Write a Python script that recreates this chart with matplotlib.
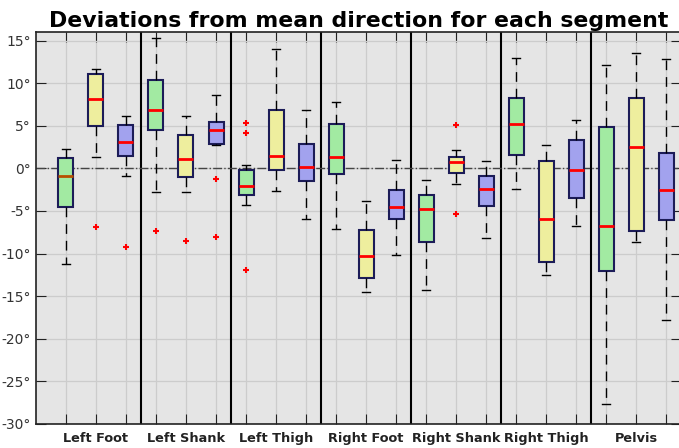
import numpy as np
import matplotlib.pyplot as plt

segments = ['Left Foot', 'Left Shank', 'Left Thigh', 'Right Foot',
            'Right Shank', 'Right Thigh', 'Pelvis']

# five-number summaries per box (3 boxes per segment: green, yellow, blue)
whislo = [-11.2, 1.3, -0.9, -2.8, -2.8, 2.7, -4.35, -2.7, -6.0,
          -7.1, -14.5, -10.2, -14.3, -1.8, -8.2, -2.4, -12.5, -6.8,
          -27.7, -8.6, -17.8]
q1 = [-4.5, 5.0, 1.4, 4.5, -1.0, 2.9, -3.1, -0.2, -1.5,
      -0.7, -12.9, -6.0, -8.6, -0.6, -4.4, 1.6, -11.0, -3.5,
      -12.1, -7.35, -6.1]
med = [-0.85, 8.1, 3.1, 6.8, 1.1, 4.5, -2.1, 1.5, 0.2,
       1.3, -10.3, -4.5, -4.8, 0.7, -2.4, 5.2, -5.95, -0.2,
       -6.8, 2.5, -2.6]
q3 = [1.2, 11.1, 5.05, 10.4, 3.9, 5.45, -0.2, 6.9, 2.9,
      5.25, -7.2, -2.5, -3.15, 1.35, -0.9, 8.25, 0.85, 3.3,
      4.8, 8.3, 1.85]
whishi = [2.3, 11.7, 6.2, 15.3, 6.2, 8.6, 0.35, 14.0, 6.8,
          7.8, -3.85, 1.0, -1.4, 2.1, 0.9, 13.0, 2.7, 5.7,
          12.1, 13.5, 12.8]
outliers = [[], [-6.9], [-9.2], [-7.35], [-8.5], [-1.3, -8.1],
            [5.35, 4.15, -11.95], [], [], [], [], [], [],
            [5.05, -5.3], [], [], [], [], [], [], []]

fills = ['#a2eaa2', '#eeee9e', '#a2a2ee']

stats = []
for i in range(len(med)):
    stats.append(dict(whislo=whislo[i], q1=q1[i], med=med[i], q3=q3[i],
                      whishi=whishi[i], fliers=outliers[i]))

fig = plt.figure(figsize=(6.79, 4.48), dpi=100)
ax = fig.add_axes([0.053, 0.0536, 0.95, 0.875])
ax.set_facecolor('#e5e5e5')

positions = np.arange(1, len(med) + 1)
bp = ax.bxp(stats, positions=positions, widths=0.5, patch_artist=True,
            boxprops=dict(edgecolor='#1c1c58', linewidth=1.5),
            whiskerprops=dict(color='black', linestyle=(0, (7, 5)), linewidth=1),
            capprops=dict(color='black', linewidth=1),
            medianprops=dict(color='red', linewidth=2),
            flierprops=dict(marker='+', markeredgecolor='red', markersize=5,
                            markeredgewidth=1.5))
for i, box in enumerate(bp['boxes']):
    box.set_facecolor(fills[i % 3])
bp['medians'][0].set_color('#b85000')

# separators between segments and zero reference
for k in range(1, len(segments)):
    ax.axvline(3 * k + 0.5, color='black', linewidth=1.5, zorder=1)
ax.axhline(0, color='#444444', linestyle='-.', linewidth=1, zorder=1)

ax.set_xlim(0, 21.5)
ax.set_ylim(-30, 16)
ax.xaxis.remove_overlapping_locs = False
ax.set_xticks(positions)
ax.set_xticklabels([''] * len(positions))
ax.set_xticks([3 * k + 2 for k in range(len(segments))], minor=True)
ax.set_xticklabels(segments, minor=True, fontweight='bold', fontsize=9.3,
                   color='#222222')
ax.tick_params(axis='x', which='minor', length=0, pad=6)
ax.tick_params(axis='both', which='major', direction='in', top=True,
               right=True, length=7, color='#222222')
yt = np.arange(-30, 16, 5)
ax.set_yticks(yt)
ax.set_yticklabels(['%d°' % v for v in yt], fontsize=10, color='#333333')
ax.grid(True, which='major', color='#cccccc', linewidth=0.9, zorder=0)
ax.set_axisbelow(True)
for s in ax.spines.values():
    s.set_color('#222222')
    s.set_linewidth(1.2)

fig.suptitle('Deviations from mean direction for each segment',
             fontsize=15.8, fontweight='bold', x=0.528, y=0.976)
fig.savefig('out.png', dpi=100)
